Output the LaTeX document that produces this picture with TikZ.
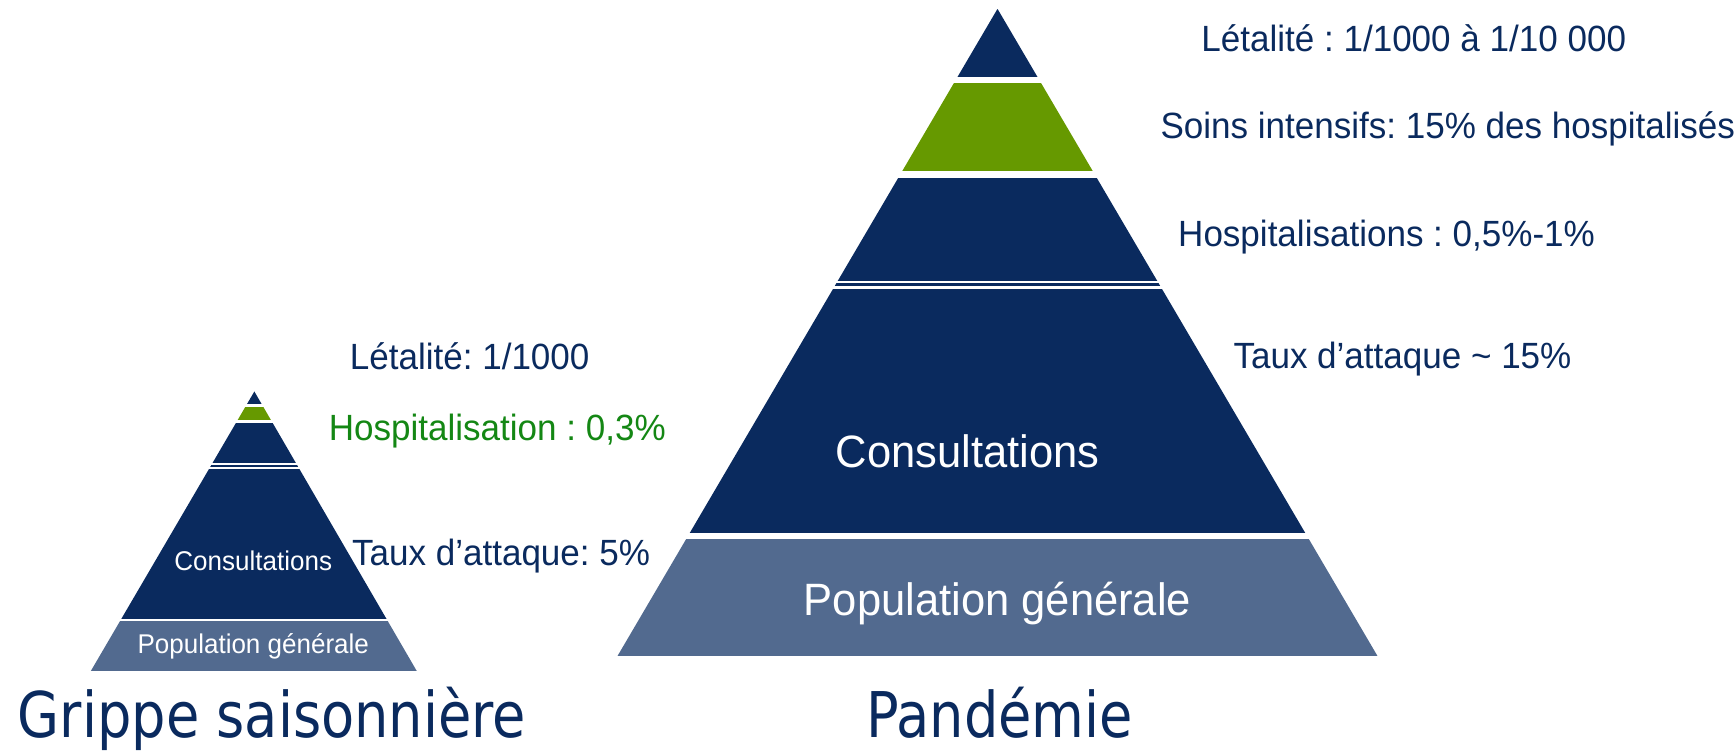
\documentclass[tikz,border=0pt]{standalone}
\usepackage{fontspec}
\setmainfont{Liberation Sans}
\newfontfamily\labelfont[FakeStretch=0.96]{Liberation Sans}
\newfontfamily\titlefont[FakeStretch=0.86]{DejaVu Sans}
\definecolor{navy}{RGB}{10,42,94}
\definecolor{leaf}{RGB}{102,153,0}
\definecolor{slate}{RGB}{82,106,143}
\definecolor{okgreen}{RGB}{20,135,20}
\frenchspacing

\begin{document}
\begin{tikzpicture}[x=0.5pt,y=-0.5pt,
	lbl/.style={anchor=base west,inner sep=0pt,text=navy,font=\labelfont\fontsize{16.5}{18}\selectfont},
	inbig/.style={anchor=base,inner sep=0pt,text=white,font=\labelfont\fontsize{20.5}{24}\selectfont},
	insmall/.style={anchor=base,inner sep=0pt,text=white,font=\labelfont\fontsize{12.25}{14}\selectfont},
	title/.style={anchor=base,inner sep=0pt,text=navy,font=\titlefont\fontsize{28.5}{32}\selectfont}]
\useasboundingbox (0,0) rectangle (1568,679);

% seasonal flu pyramid
\begin{scope}
	\clip (230,354) -- (82,607) -- (377,607) -- cycle;
	\foreach \ya/\yb/\col in {354/365.4/navy,367.6/380.2/leaf,382.6/418.5/navy,
		420.3/422.5/navy,424.5/559.4/navy,561.4/607/slate}
	\fill[\col] (60,\ya) rectangle (400,\yb);
\end{scope}

% pandemic pyramid
\begin{scope}
	\clip (902,8) -- (558.5,593) -- (1245.5,593) -- cycle;
	\foreach \ya/\yb/\col in {8/69.2/navy,75.2/154.5/leaf,161.4/254.2/navy,
		256.3/259/navy,261.3/482.3/navy,487.5/593/slate}
	\fill[\col] (540,\ya) rectangle (1260,\yb);
\end{scope}

% texts of the small one
\node[lbl] (letal1) at (316,334) {Létalité: 1/1000};
\node[lbl,text=okgreen] (hosp1) at (297,398) {Hospitalisation : 0,3\%};
\node[lbl] (attaq1) at (318,511) {Taux d’attaque: 5\%};
\node[insmall] (consult1) at (229,516) {Consultations};
\node[insmall] (popul1) at (229,591) {Population générale};
\node[title] (grippe) at (246,667) {Grippe saisonnière};

% texts of the big one
\node[lbl] (letal2) at (1086,47) {Létalité : 1/1000 à 1/10 000};
\node[lbl] (soins2) at (1049,125) {Soins intensifs: 15\% des hospitalisés};
\node[lbl] (hosp2) at (1065,223) {Hospitalisations : 0,5\%-1\%};
\node[lbl] (attaq2) at (1115,333) {Taux d’attaque \textasciitilde{} 15\%};
\node[inbig] (consult2) at (875,423) {Consultations};
\node[inbig] (popul2) at (902,557) {Population générale};
\node[title] (pandem) at (904,667) {Pandémie};
\end{tikzpicture}
\end{document}
